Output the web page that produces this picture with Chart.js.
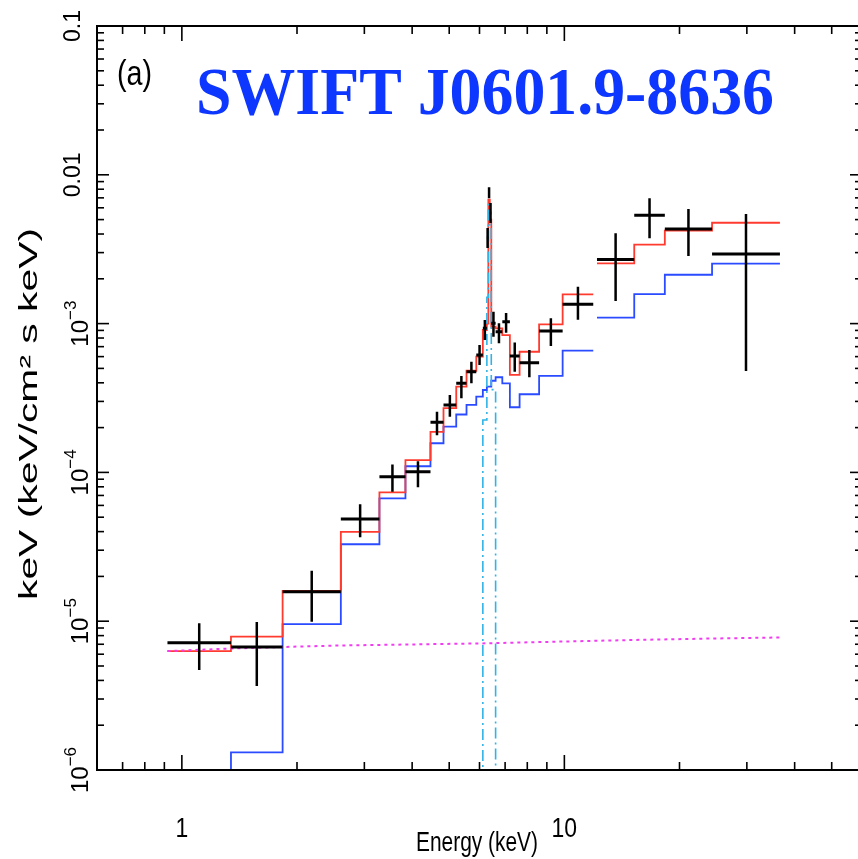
<!DOCTYPE html>
<html><head><meta charset="utf-8">
<script src="https://cdn.jsdelivr.net/npm/chart.js@4.4.1/dist/chart.umd.min.js"></script>
<style>
html,body{margin:0;padding:0;background:#fff;overflow:hidden;}
#wrap{position:relative;width:866px;height:859px;}
</style></head><body>
<div id="wrap"><canvas id="c"></canvas></div>
<script>
// ---------- data ----------
// energy bin edges (keV) for the low-energy spectrum and the hard X-ray spectrum
const edges1 = [0.917,1.344,1.834,2.604,3.285,3.842,4.467,4.831,5.216,5.549,5.885,6.122,6.272,6.329,6.383,6.441,6.611,6.883,7.204,7.638,8.590,9.897,11.90];
const edges2 = [12.17,15.23,18.31,24.33,36.61];

// observed data: flux and 1-sigma range (keV^2 cm^-2 s^-1 keV^-1)
const flux1  = [7.17e-6,6.71e-6,1.578e-5,4.87e-5,9.35e-5,1.012e-4,2.17e-4,2.84e-4,3.97e-4,4.75e-4,6.15e-4,9.29e-4,3.76e-3,7.65e-3,5.53e-3,1.005e-3,8.83e-4,1.03e-3,6.05e-4,5.46e-4,8.91e-4,1.349e-3];
const errLo1 = [4.70e-6,3.67e-6,9.92e-6,3.66e-5,7.41e-5,7.94e-5,1.78e-4,2.37e-4,3.15e-4,3.97e-4,5.27e-4,7.76e-4,3.22e-3,6.95e-3,4.74e-3,8.17e-4,7.38e-4,8.69e-4,4.75e-4,4.36e-4,7.07e-4,1.06e-3];
const errHi1 = [9.68e-6,9.88e-6,2.18e-5,6.10e-5,1.128e-4,1.19e-4,2.56e-4,3.31e-4,4.45e-4,5.54e-4,7.18e-4,1.057e-3,4.39e-3,8.24e-3,6.46e-3,1.20e-3,1.005e-3,1.18e-3,7.45e-4,6.65e-4,1.086e-3,1.77e-3];
const flux2  = [2.70e-3,5.35e-3,4.33e-3,2.94e-3];
const errLo2 = [1.42e-3,3.74e-3,2.85e-3,4.80e-4];
const errHi2 = [4.05e-3,6.95e-3,5.89e-3,5.45e-3];

// total model (red)
const total1 = [6.30e-6,7.87e-6,1.60e-5,3.99e-5,7.35e-5,1.21e-4,1.875e-4,2.70e-4,3.77e-4,4.82e-4,6.00e-4,9.06e-4,1.0e-3,6.8e-3,5.0e-3,9.53e-4,9.29e-4,8.37e-4,4.52e-4,6.47e-4,9.89e-4,1.57e-3];
const total2 = [2.54e-3,3.39e-3,4.21e-3,4.76e-3];
// absorbed power law (blue)
const absPL1 = [5e-7,1.315e-6,9.57e-6,3.29e-5,6.70e-5,1.10e-4,1.57e-4,2.03e-4,2.45e-4,2.84e-4,3.23e-4,3.58e-4,3.77e-4,3.77e-4,3.77e-4,4.13e-4,4.36e-4,3.97e-4,2.74e-4,3.35e-4,4.45e-4,6.58e-4];
const absPL2 = [1.096e-3,1.58e-3,2.13e-3,2.53e-3];
// Fe K gaussian line (cyan), per low-energy bin (null = not drawn)
const feLine1 = [null,null,null,null,null,null,null,null,null,null,1e-9,2.25e-4,1.5e-3,6.3e-3,4.5e-3,3.6e-4,1e-9,null,null,null,null,null];
// scattered power law (magenta)
const scatE = [0.917,1.344,1.834,2.604,3.842,6.272,9.897,15.23,24.33,36.61];
const scatF = [6.30e-6,6.55e-6,6.71e-6,6.87e-6,6.97e-6,7.10e-6,7.30e-6,7.48e-6,7.65e-6,7.77e-6];

// axes
const xRange = [0.6, 60];
const yRange = [1e-6, 0.1];
const xMajorTicks = [1, 10];
const xTickLabels = ['1', '10'];
const xMinorTicks = [0.7,0.8,0.9,2,3,4,5,6,7,8,9,20,30,40,50];
const yMajorTicks = [1e-6,1e-5,1e-4,1e-3,1e-2,1e-1];
const yTickBase = ['10','10','10','10','0.01','0.1'];
const yTickExp  = ['\u22126','\u22125','\u22124','\u22123','',''];
const yMinorTicks = [];
for (let d = -6; d < -1; d++) for (let m = 2; m <= 9; m++) yMinorTicks.push(m * Math.pow(10, d));

const titleText = 'SWIFT J0601.9-8636';
const panelText = '(a)';
const xTitle = 'Energy (keV)';
const yTitle = 'keV (keV/cm\u00B2 s keV)';

// ---------- builders ----------
function steps(edges, vals) {
  const pts = [];
  for (let i = 0; i < vals.length; i++) {
    pts.push({x: edges[i], y: vals[i]});
    pts.push({x: edges[i+1], y: vals[i]});
  }
  return pts;
}
function hbars(edges, f) {
  const pts = [];
  f.forEach((v, i) => {
    pts.push({x: edges[i], y: v}, {x: edges[i+1], y: v}, {x: edges[i+1], y: null});
  });
  return pts;
}
function vbars(edges, lo, hi) {
  const pts = [];
  lo.forEach((v, i) => {
    const c = Math.sqrt(edges[i] * edges[i+1]);
    pts.push({x: c, y: v}, {x: c, y: hi[i]}, {x: c, y: null});
  });
  return pts;
}

const base = {pointRadius: 0, fill: false, tension: 0, spanGaps: false, borderCapStyle: 'butt'};
const datasets = [
  Object.assign({}, base, {label: 'data E', data: hbars(edges1, flux1).concat([{x: 12, y: null}], hbars(edges2, flux2)), borderColor: '#000', borderWidth: 3, order: 0}),
  Object.assign({}, base, {label: 'data F', data: vbars(edges1, errLo1, errHi1).concat([{x: 12, y: null}], vbars(edges2, errLo2, errHi2)), borderColor: '#000', borderWidth: 2.5, order: 0}),
  Object.assign({}, base, {label: 'scatter', data: scatE.map((e, i) => ({x: e, y: scatF[i]})), borderColor: '#f23cf2', borderWidth: 2, borderDash: [3, 4], order: 1}),
  Object.assign({}, base, {label: 'Fe line', data: steps(edges1, feLine1), borderColor: '#2fb4e6', borderWidth: 1.6, borderDash: [11, 4, 2, 4], order: 2}),
  Object.assign({}, base, {label: 'total', data: steps(edges1, total1).concat([{x: 12, y: null}], steps(edges2, total2)), borderColor: '#ff3b2f', borderWidth: 1.8, order: 3}),
  Object.assign({}, base, {label: 'abs PL', data: steps(edges1, absPL1).concat([{x: 12, y: null}], steps(edges2, absPL2)), borderColor: '#2a4bff', borderWidth: 1.8, order: 4})
];

function fitText(ctx, text, font, targetW) {
  ctx.font = font;
  const w = ctx.measureText(text).width;
  return targetW ? targetW / w : 1;
}

const axesPlugin = {
  id: 'axesFrame',
  afterDatasetsDraw(chart) {
    const {ctx, chartArea: a, scales: {x, y}} = chart;
    ctx.save();
    ctx.strokeStyle = '#000';
    ctx.fillStyle = '#000';
    ctx.lineWidth = 2;
    ctx.strokeRect(a.left, a.top, a.right - a.left, a.bottom - a.top);
    ctx.lineWidth = 1.6;
    const seg = (x1, y1, x2, y2) => { ctx.beginPath(); ctx.moveTo(x1, y1); ctx.lineTo(x2, y2); ctx.stroke(); };
    xMajorTicks.forEach(v => { const p = x.getPixelForValue(v); seg(p, a.bottom, p, a.bottom - 15); seg(p, a.top, p, a.top + 15); });
    xMinorTicks.forEach(v => { const p = x.getPixelForValue(v); seg(p, a.bottom, p, a.bottom - 8); seg(p, a.top, p, a.top + 8); });
    yMajorTicks.forEach(v => { const p = y.getPixelForValue(v); seg(a.left, p, a.left + 12, p); seg(a.right, p, a.right - 12, p); });
    yMinorTicks.forEach(v => { const p = y.getPixelForValue(v); seg(a.left, p, a.left + 7, p); seg(a.right, p, a.right - 7, p); });

    // x tick labels
    ctx.textBaseline = 'alphabetic';
    ctx.textAlign = 'center';
    xMajorTicks.forEach((v, i) => {
      const p = x.getPixelForValue(v);
      ctx.save(); ctx.translate(p, 837); ctx.scale(0.85, 1);
      ctx.font = '27px "Liberation Sans", Arial, sans-serif';
      ctx.fillText(xTickLabels[i], 0, 0); ctx.restore();
    });
    // y tick labels (rotated)
    yMajorTicks.forEach((v, i) => {
      const p = y.getPixelForValue(v);
      const hasExp = !!yTickExp[i];
      const bf = (hasExp ? 24 : 23) + 'px "Liberation Sans", Arial, sans-serif';
      const ef = '17px "Liberation Sans", Arial, sans-serif';
      ctx.font = bf; const wb = ctx.measureText(yTickBase[i]).width;
      ctx.font = ef; const we = hasExp ? ctx.measureText(yTickExp[i]).width : 0;
      const tot = wb + we;
      ctx.save(); ctx.translate(hasExp ? 88 : 80, p); ctx.rotate(-Math.PI / 2);
      ctx.textAlign = 'left';
      ctx.font = bf; ctx.fillText(yTickBase[i], -tot / 2, 0);
      if (hasExp) { ctx.font = ef; ctx.fillText(yTickExp[i], -tot / 2 + wb, -12); }
      ctx.restore();
    });
    // axis titles
    ctx.save(); ctx.translate(477, 851);
    ctx.textAlign = 'center';
    const sx = fitText(ctx, xTitle, '27px "Liberation Sans", Arial, sans-serif', 122);
    ctx.scale(sx, 1); ctx.fillText(xTitle, 0, 0); ctx.restore();

    ctx.save(); ctx.translate(37, 414); ctx.rotate(-Math.PI / 2);
    ctx.textAlign = 'center';
    const sy = fitText(ctx, yTitle, '25px "Liberation Sans", Arial, sans-serif', 372);
    ctx.scale(sy, 1); ctx.fillText(yTitle, 0, 0); ctx.restore();

    // panel label
    ctx.save(); ctx.translate(117, 85); ctx.textAlign = 'left';
    const sp = fitText(ctx, panelText, '35px "Liberation Sans", Arial, sans-serif', 35);
    ctx.scale(sp, 1); ctx.fillText(panelText, 0, 0); ctx.restore();

    // title
    ctx.save(); ctx.translate(196, 114); ctx.textAlign = 'left';
    ctx.fillStyle = '#0d36ff';
    const st = fitText(ctx, titleText, 'bold 67px "Liberation Serif", "Times New Roman", serif', 578);
    ctx.scale(st, 1); ctx.fillText(titleText, 0, 0); ctx.restore();
    ctx.restore();
  }
};

new Chart(document.getElementById('c'), {
  type: 'line',
  data: {datasets},
  options: {
    responsive: true, maintainAspectRatio: false, animation: false,
    devicePixelRatio: 1,
    layout: {padding: {top: 26, right: 4, left: 0, bottom: 0}},
    plugins: {legend: {display: false}, tooltip: {enabled: false}, title: {display: false}},
    elements: {line: {borderJoinStyle: 'miter'}},
    scales: {
      x: {type: 'logarithmic', min: xRange[0], max: xRange[1],
          grid: {display: false}, border: {display: false}, ticks: {display: false},
          afterFit(s) { s.height = 89; }},
      y: {type: 'logarithmic', min: yRange[0], max: yRange[1],
          grid: {display: false}, border: {display: false}, ticks: {display: false},
          afterFit(s) { s.width = 97; }}
    }
  },
  plugins: [axesPlugin]
});
</script>
</body></html>
